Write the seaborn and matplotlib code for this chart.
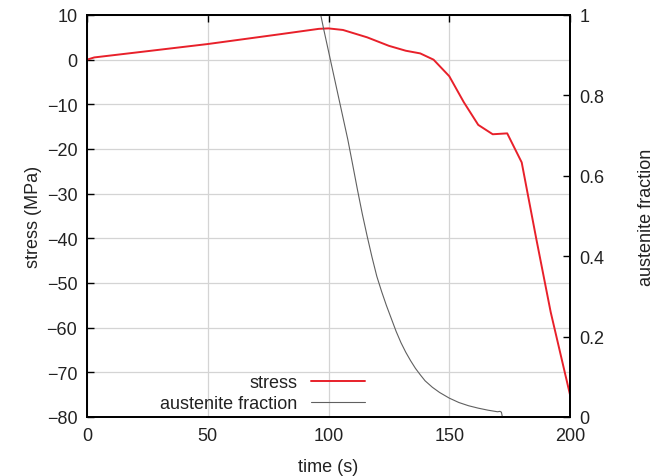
import matplotlib
matplotlib.use("Agg")
import matplotlib.pyplot as plt
import numpy as np
import seaborn as sns

# data
time_stress = [0, 3, 25, 50, 80, 96, 100, 106, 116, 125, 132, 138, 143.5,
               150, 156, 162, 168, 174, 180, 186, 192, 200]
stress = [0.0, 0.5, 1.9, 3.5, 5.7, 6.9, 7.0, 6.65, 5.0, 3.1, 2.0, 1.4, 0.0,
          -3.7, -9.5, -14.6, -16.7, -16.5, -23.0, -40.0, -56.5, -75.0]

time_aust = [96.8, 98, 100, 102, 104, 106, 108, 110, 112, 114, 116, 118, 120,
             122, 124, 126, 128, 130, 132, 134, 136, 138, 140, 143, 146, 150,
             154, 158, 162, 166, 170, 171, 171.6, 172]
austenite = [1.0, 0.965, 0.91, 0.855, 0.80, 0.745, 0.69, 0.628, 0.565, 0.505,
             0.45, 0.398, 0.35, 0.312, 0.277, 0.245, 0.213, 0.185, 0.161,
             0.140, 0.121, 0.105, 0.09, 0.074, 0.061, 0.047, 0.036, 0.028,
             0.022, 0.017, 0.013, 0.014, 0.012, 0.0]

x_ticks = [0, 50, 100, 150, 200]
y_ticks = [-80, -70, -60, -50, -40, -30, -20, -10, 0, 10]
y2_ticks = [0, 0.2, 0.4, 0.6, 0.8, 1]
y2_labels = ["0", "0.2", "0.4", "0.6", "0.8", "1"]

sns.set_theme(style="white")
plt.rcParams["font.family"] = ["Liberation Sans", "DejaVu Sans"]
plt.rcParams["font.size"] = 13
plt.rcParams["axes.unicode_minus"] = True

RED = "#e8202a"
GRAY = "#606060"
TXT = "#222222"

fig, ax = plt.subplots(figsize=(6.58, 4.77), dpi=100)
fig.subplots_adjust(left=87 / 658, right=570 / 658, top=1 - 16 / 477, bottom=1 - 418 / 477)
ax2 = ax.twinx()

sns.lineplot(x=time_stress, y=stress, ax=ax, color=RED, linewidth=1.4, label="stress", legend=False)
sns.lineplot(x=time_aust, y=austenite, ax=ax2, color=GRAY, linewidth=0.8,
             label="austenite fraction", legend=False)

ax.set_xlim(0, 200)
ax.set_ylim(-80, 10)
ax2.set_ylim(0, 1)
ax.set_xticks(x_ticks)
ax.set_yticks(y_ticks)
ax2.set_yticks(y2_ticks)
ax2.set_yticklabels(y2_labels)

ax.grid(True, color="#d4d4d4", linewidth=0.9)
ax.set_axisbelow(True)

for a in (ax, ax2):
    for s in a.spines.values():
        s.set_color("black")
        s.set_linewidth(1.3)
ax.tick_params(axis="both", direction="in", length=5, width=1, color="black",
               labelsize=13, labelcolor=TXT, pad=7)
ax.tick_params(axis="x", top=True)
ax2.tick_params(axis="y", direction="in", length=5, width=1, color="black",
                labelsize=13, labelcolor=TXT, pad=7)

ax.set_xlabel("time (s)", fontsize=13, color=TXT, labelpad=10)
ax.set_ylabel("stress (MPa)", fontsize=13, color=TXT, labelpad=3)
ax2.set_ylabel("austenite fraction", fontsize=13, color=TXT, labelpad=24)

h1, l1 = ax.get_legend_handles_labels()
h2, l2 = ax2.get_legend_handles_labels()
leg = ax2.legend(h1 + h2, l1 + l2, loc="lower right", bbox_to_anchor=(0.61, -0.028),
                 frameon=False, markerfirst=False, handlelength=3.0,
                 handletextpad=0.75, labelspacing=0.2, fontsize=13)
for col in leg._legend_handle_box.get_children():
    col.align = "right"
for t in leg.get_texts():
    t.set_color(TXT)

fig.savefig("out.png", dpi=100)
plt.close(fig)
